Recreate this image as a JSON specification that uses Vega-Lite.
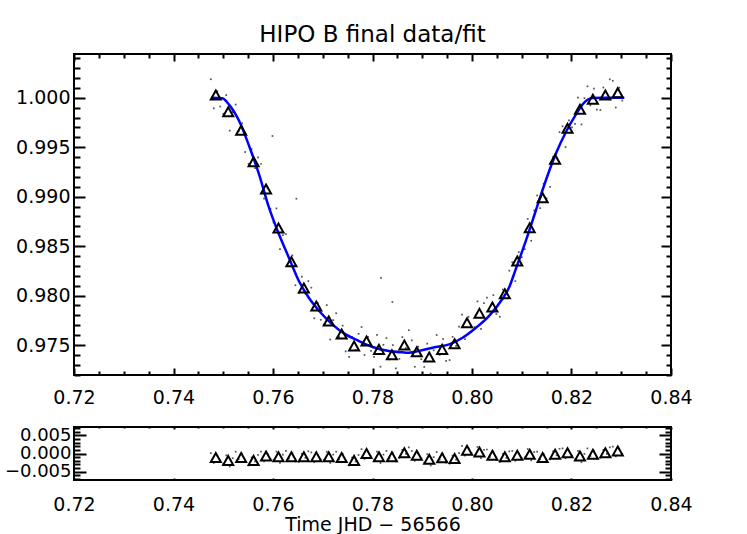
{
  "$schema": "https://vega.github.io/schema/vega-lite/v6.json",
  "padding": {"left": 3, "top": 23, "right": 5, "bottom": 0},
  "background": "white",
  "config": {
    "font": "DejaVu Sans",
    "view": {"stroke": "black", "strokeWidth": 2},
    "axis": {"domain": false, "grid": false, "tickColor": "black", "tickWidth": 2, "labelColor": "black", "labelFont": "DejaVu Sans", "labelFontSize": 19, "labelFontWeight": "normal", "labelOverlap": false, "labelFlush": false, "labelBound": false, "titleColor": "black", "titleFont": "DejaVu Sans", "titleFontSize": 19, "titleFontWeight": "normal"}
  },
  "datasets": {
    "bins": [
      {"x":0.7485,"f":1.00027,"r":-0.0011},{"x":0.7510,"f":0.99858,"r":-0.0019},{"x":0.7536,"f":0.99671,"r":-0.0011},{"x":0.7561,"f":0.99353,"r":-0.0019},
      {"x":0.7586,"f":0.99077,"r":-0.0007},{"x":0.7611,"f":0.98683,"r":-0.0009},{"x":0.7637,"f":0.98342,"r":-0.0009},{"x":0.7662,"f":0.98076,"r":-0.0009},
      {"x":0.7687,"f":0.97894,"r":-0.0009},{"x":0.7712,"f":0.97742,"r":-0.0009},{"x":0.7738,"f":0.97611,"r":-0.0011},{"x":0.7763,"f":0.97490,"r":-0.0019},
      {"x":0.7788,"f":0.97540,"r":0.0000},{"x":0.7813,"f":0.97456,"r":-0.0009},{"x":0.7839,"f":0.97402,"r":-0.0009},{"x":0.7864,"f":0.97500,"r":0.0002},
      {"x":0.7889,"f":0.97432,"r":-0.0005},{"x":0.7914,"f":0.97378,"r":-0.0016},{"x":0.7940,"f":0.97456,"r":-0.0012},{"x":0.7965,"f":0.97513,"r":-0.0014},
      {"x":0.7990,"f":0.97725,"r":0.0009},{"x":0.8015,"f":0.97820,"r":0.0004},{"x":0.8041,"f":0.97884,"r":-0.0005},{"x":0.8066,"f":0.98018,"r":-0.0009},
      {"x":0.8091,"f":0.98349,"r":-0.0005},{"x":0.8116,"f":0.98686,"r":-0.0002},{"x":0.8142,"f":0.98989,"r":-0.0011},{"x":0.8167,"f":0.99377,"r":-0.0002},
      {"x":0.8192,"f":0.99691,"r":0.0002},{"x":0.8217,"f":0.99883,"r":-0.0007},{"x":0.8243,"f":0.99984,"r":-0.0002},{"x":0.8268,"f":1.00027,"r":0.0002},
      {"x":0.8293,"f":1.00051,"r":0.0007}
    ],
    "fit": [
      {"x":0.7476,"f":1.0000},{"x":0.7498,"f":0.99994},{"x":0.7512,"f":0.99928},{"x":0.7532,"f":0.99764},{"x":0.7552,"f":0.99512},
      {"x":0.7572,"f":0.99226},{"x":0.7592,"f":0.98888},{"x":0.7612,"f":0.98619},{"x":0.7632,"f":0.98382},{"x":0.7652,"f":0.98147},
      {"x":0.7672,"f":0.97978},{"x":0.7693,"f":0.97844},{"x":0.7719,"f":0.97709},{"x":0.7746,"f":0.97608},{"x":0.7773,"f":0.97540},
      {"x":0.7800,"f":0.97480},{"x":0.7833,"f":0.97439},{"x":0.7860,"f":0.97426},{"x":0.7873,"f":0.97422},{"x":0.7894,"f":0.97441},
      {"x":0.7927,"f":0.97480},{"x":0.7954,"f":0.97507},{"x":0.7981,"f":0.97574},{"x":0.8008,"f":0.97675},{"x":0.8034,"f":0.97793},
      {"x":0.8061,"f":0.97965},{"x":0.8074,"f":0.98076},{"x":0.8088,"f":0.98268},{"x":0.8108,"f":0.98551},{"x":0.8128,"f":0.98855},
      {"x":0.8148,"f":0.99158},{"x":0.8168,"f":0.99428},{"x":0.8188,"f":0.99646},{"x":0.8209,"f":0.99832},{"x":0.8225,"f":0.99949},
      {"x":0.8242,"f":0.99997},{"x":0.8262,"f":1.0000},{"x":0.8306,"f":1.0000}
    ],
    "raw": [
      {"x":0.7475,"f":1.00187,"r":0.0001},{"x":0.7481,"f":0.99893,"r":-0.0026},{"x":0.7488,"f":1.00065,"r":-0.0006},{"x":0.7494,"f":0.99911,"r":-0.0019},
      {"x":0.7500,"f":0.99838,"r":-0.0028},{"x":0.7506,"f":1.00026,"r":-0.0005},{"x":0.7513,"f":0.99667,"r":-0.0036},{"x":0.7519,"f":0.99855,"r":-0.0013},
      {"x":0.7525,"f":0.99931,"r":0.0005},{"x":0.7531,"f":0.99661,"r":-0.0016},{"x":0.7538,"f":0.99741,"r":-0.0001},{"x":0.7544,"f":0.99451,"r":-0.0024},
      {"x":0.7551,"f":0.99331,"r":-0.0033},{"x":0.7557,"f":0.99480,"r":-0.0011},{"x":0.7564,"f":0.99288,"r":-0.0022},{"x":0.7570,"f":0.99397,"r":-0.0004},
      {"x":0.7576,"f":0.99330,"r":0.0005},{"x":0.7582,"f":0.98980,"r":-0.0022},{"x":0.7589,"f":0.99087,"r":-0.0002},{"x":0.7595,"f":0.98878,"r":-0.0015},
      {"x":0.7601,"f":0.98739,"r":-0.0018},{"x":0.7607,"f":0.98881,"r":0.0005},{"x":0.7614,"f":0.98469,"r":-0.0026},{"x":0.7620,"f":0.98612,"r":-0.0003},
      {"x":0.7626,"f":0.98622,"r":0.0007},{"x":0.7632,"f":0.98340,"r":-0.0014},{"x":0.7639,"f":0.98406,"r":0.0001},{"x":0.7645,"f":0.98104,"r":-0.0022},
      {"x":0.7652,"f":0.98025,"r":-0.0023},{"x":0.7658,"f":0.98191,"r":-0.0001},{"x":0.7665,"f":0.98019,"r":-0.0012},{"x":0.7671,"f":0.98146,"r":0.0006},
      {"x":0.7677,"f":0.98080,"r":0.0003},{"x":0.7683,"f":0.97770,"r":-0.0024},{"x":0.7690,"f":0.97924,"r":-0.0004},{"x":0.7696,"f":0.97755,"r":-0.0017},
      {"x":0.7702,"f":0.97708,"r":-0.0018},{"x":0.7708,"f":0.97904,"r":0.0005},{"x":0.7715,"f":0.97555,"r":-0.0026},{"x":0.7721,"f":0.97752,"r":-0.0003},
      {"x":0.7727,"f":0.97821,"r":0.0005},{"x":0.7733,"f":0.97581,"r":-0.0016},{"x":0.7740,"f":0.97696,"r":-0.0001},{"x":0.7746,"f":0.97436,"r":-0.0024},
      {"x":0.7753,"f":0.97380,"r":-0.0033},{"x":0.7759,"f":0.97582,"r":-0.0011},{"x":0.7766,"f":0.97451,"r":-0.0022},{"x":0.7772,"f":0.97613,"r":-0.0004},
      {"x":0.7778,"f":0.97682,"r":0.0012},{"x":0.7784,"f":0.97399,"r":-0.0015},{"x":0.7791,"f":0.97583,"r":0.0005},{"x":0.7797,"f":0.97440,"r":-0.0008},
      {"x":0.7803,"f":0.97381,"r":-0.0018},{"x":0.7809,"f":0.97602,"r":0.0005},{"x":0.7816,"f":0.97281,"r":-0.0026},{"x":0.7822,"f":0.97502,"r":-0.0003},
      {"x":0.7828,"f":0.97570,"r":0.0007},{"x":0.7834,"f":0.97355,"r":-0.0014},{"x":0.7841,"f":0.97500,"r":0.0001},{"x":0.7847,"f":0.97265,"r":-0.0022},
      {"x":0.7854,"f":0.97360,"r":-0.0012},{"x":0.7860,"f":0.97580,"r":0.0010},{"x":0.7867,"f":0.97470,"r":-0.0001},{"x":0.7873,"f":0.97650,"r":0.0017},
      {"x":0.7879,"f":0.97547,"r":0.0007},{"x":0.7885,"f":0.97280,"r":-0.0020},{"x":0.7892,"f":0.97484,"r":0.0000},{"x":0.7898,"f":0.97357,"r":-0.0013},
      {"x":0.7904,"f":0.97278,"r":-0.0025},{"x":0.7910,"f":0.97514,"r":-0.0002},{"x":0.7917,"f":0.97211,"r":-0.0033},{"x":0.7923,"f":0.97447,"r":-0.0010},
      {"x":0.7929,"f":0.97601,"r":0.0004},{"x":0.7935,"f":0.97400,"r":-0.0017},{"x":0.7942,"f":0.97561,"r":-0.0002},{"x":0.7948,"f":0.97340,"r":-0.0025},
      {"x":0.7955,"f":0.97348,"r":-0.0028},{"x":0.7961,"f":0.97583,"r":-0.0006},{"x":0.7968,"f":0.97491,"r":-0.0017},{"x":0.7974,"f":0.97686,"r":0.0001},
      {"x":0.7980,"f":0.97807,"r":0.0021},{"x":0.7986,"f":0.97560,"r":-0.0006},{"x":0.7993,"f":0.97786,"r":0.0014},{"x":0.7999,"f":0.97679,"r":0.0001},
      {"x":0.8005,"f":0.97682,"r":-0.0005},{"x":0.8011,"f":0.97941,"r":0.0018},{"x":0.8018,"f":0.97664,"r":-0.0013},{"x":0.8024,"f":0.97923,"r":0.0010},
      {"x":0.8030,"f":0.97979,"r":0.0011},{"x":0.8036,"f":0.97808,"r":-0.0010},{"x":0.8043,"f":0.98004,"r":0.0005},{"x":0.8049,"f":0.97813,"r":-0.0018},
      {"x":0.8056,"f":0.97786,"r":-0.0023},{"x":0.8062,"f":0.98061,"r":-0.0001},{"x":0.8069,"f":0.98016,"r":-0.0012},{"x":0.8075,"f":0.98251,"r":0.0006},
      {"x":0.8081,"f":0.98337,"r":0.0007},{"x":0.8087,"f":0.98146,"r":-0.0020},{"x":0.8094,"f":0.98439,"r":0.0000},{"x":0.8100,"f":0.98388,"r":-0.0013},
      {"x":0.8106,"f":0.98469,"r":-0.0011},{"x":0.8112,"f":0.98775,"r":0.0012},{"x":0.8119,"f":0.98554,"r":-0.0019},{"x":0.8125,"f":0.98860,"r":0.0004},
      {"x":0.8131,"f":0.99012,"r":0.0005},{"x":0.8137,"f":0.98884,"r":-0.0016},{"x":0.8144,"f":0.99130,"r":-0.0001},{"x":0.8150,"f":0.98982,"r":-0.0024},
      {"x":0.8157,"f":0.99098,"r":-0.0016},{"x":0.8163,"f":0.99401,"r":0.0006},{"x":0.8170,"f":0.99389,"r":-0.0005},{"x":0.8176,"f":0.99652,"r":0.0013},
      {"x":0.8182,"f":0.99711,"r":0.0014},{"x":0.8188,"f":0.99501,"r":-0.0013},{"x":0.8195,"f":0.99771,"r":0.0007},{"x":0.8201,"f":0.99701,"r":-0.0006},
      {"x":0.8207,"f":0.99735,"r":-0.0016},{"x":0.8213,"f":1.00000,"r":0.0007},{"x":0.8220,"f":0.99730,"r":-0.0024},{"x":0.8226,"f":0.99995,"r":-0.0001},
      {"x":0.8232,"f":1.00115,"r":0.0014},{"x":0.8238,"f":0.99923,"r":-0.0007},{"x":0.8245,"f":1.00093,"r":0.0008},{"x":0.8251,"f":0.99880,"r":-0.0015},
      {"x":0.8258,"f":0.99877,"r":-0.0012},{"x":0.8264,"f":1.00103,"r":0.0010},{"x":0.8271,"f":1.00000,"r":-0.0001},{"x":0.8277,"f":1.00186,"r":0.0017},
      {"x":0.8283,"f":1.00171,"r":0.0019},{"x":0.8289,"f":0.99901,"r":-0.0008},{"x":0.8296,"f":1.00101,"r":0.0012},{"x":0.8302,"f":0.99971,"r":-0.0001},
      {"x":0.7599,"f":0.99613,"r":null},{"x":0.7647,"f":0.98979,"r":null},{"x":0.7817,"f":0.98180,"r":null},{"x":0.7840,"f":0.97935,"r":null}
    ]
  },
  "spacing": 7,
  "vconcat": [
    {
      "title": {"text": "HIPO B final data/fit", "frame": "group", "anchor": "middle", "fontSize": 23, "fontWeight": "normal", "font": "DejaVu Sans", "color": "black", "offset": 2},
      "width": 597,
      "height": 321,
      "resolve": {"axis": {"x": "independent", "y": "independent"}},
      "layer": [
        {
          "data": {"name": "raw"},
          "mark": {"type": "point", "shape": "square", "filled": true, "size": 3, "color": "#444", "opacity": 0.9},
          "encoding": {
            "x": {"field": "x", "type": "quantitative", "scale": {"domain": [0.72, 0.84], "nice": false, "zero": false},
              "axis": {"orient": "bottom", "title": null, "values": [0.72,0.725,0.73,0.735,0.74,0.745,0.75,0.755,0.76,0.765,0.77,0.775,0.78,0.785,0.79,0.795,0.8,0.805,0.81,0.815,0.82,0.825,0.83,0.835,0.84],
                "labelExpr": "abs(datum.value*50-round(datum.value*50))<0.001 ? format(datum.value,'.2f') : ''",
                "tickSize": {"condition": {"test": "abs(datum.value*50-round(datum.value*50))<0.001", "value": -7}, "value": -4},
                "labelPadding": 20}},
            "y": {"field": "f", "type": "quantitative", "scale": {"domain": [0.97197, 1.00442], "nice": false, "zero": false},
              "axis": {"orient": "left", "title": null, "values": [0.972,0.973,0.974,0.975,0.976,0.977,0.978,0.979,0.98,0.981,0.982,0.983,0.984,0.985,0.986,0.987,0.988,0.989,0.99,0.991,0.992,0.993,0.994,0.995,0.996,0.997,0.998,0.999,1.0,1.001,1.002,1.003,1.004],
                "labelExpr": "abs(datum.value*200-round(datum.value*200))<0.001 ? format(datum.value,'.3f') : ''",
                "tickSize": {"condition": {"test": "abs(datum.value*200-round(datum.value*200))<0.001", "value": -11}, "value": -6},
                "labelPadding": 15}}
          }
        },
        {
          "data": {"name": "fit"},
          "mark": {"type": "line", "color": "#0000ff", "strokeWidth": 2.5, "interpolate": "monotone"},
          "encoding": {
            "x": {"field": "x", "type": "quantitative",
              "axis": {"orient": "top", "title": null, "labels": false, "values": [0.72,0.725,0.73,0.735,0.74,0.745,0.75,0.755,0.76,0.765,0.77,0.775,0.78,0.785,0.79,0.795,0.8,0.805,0.81,0.815,0.82,0.825,0.83,0.835,0.84],
                "tickSize": {"condition": {"test": "abs(datum.value*50-round(datum.value*50))<0.001", "value": -7}, "value": -4}}},
            "y": {"field": "f", "type": "quantitative",
              "axis": {"orient": "right", "title": null, "labels": false, "values": [0.972,0.973,0.974,0.975,0.976,0.977,0.978,0.979,0.98,0.981,0.982,0.983,0.984,0.985,0.986,0.987,0.988,0.989,0.99,0.991,0.992,0.993,0.994,0.995,0.996,0.997,0.998,0.999,1.0,1.001,1.002,1.003,1.004],
                "tickSize": {"condition": {"test": "abs(datum.value*200-round(datum.value*200))<0.001", "value": -10}, "value": -5}}}
          }
        },
        {
          "data": {"name": "bins"},
          "mark": {"type": "point", "shape": "M0,-0.9L1,0.9L-1,0.9Z", "filled": false, "size": 100, "stroke": "black", "strokeWidth": 2, "opacity": 1},
          "encoding": {
            "x": {"field": "x", "type": "quantitative", "axis": null},
            "y": {"field": "f", "type": "quantitative", "axis": null}
          }
        }
      ]
    },
    {
      "width": 597,
      "height": 53,
      "resolve": {"axis": {"x": "independent", "y": "independent"}},
      "layer": [
        {
          "data": {"name": "raw"},
          "mark": {"type": "point", "shape": "square", "filled": true, "size": 3, "color": "#444", "opacity": 0.9},
          "encoding": {
            "x": {"field": "x", "type": "quantitative", "scale": {"domain": [0.72, 0.84], "nice": false, "zero": false},
              "axis": {"orient": "bottom", "title": "Time JHD \u2212 56566", "titlePadding": 0, "values": [0.72,0.725,0.73,0.735,0.74,0.745,0.75,0.755,0.76,0.765,0.77,0.775,0.78,0.785,0.79,0.795,0.8,0.805,0.81,0.815,0.82,0.825,0.83,0.835,0.84],
                "labelExpr": "abs(datum.value*50-round(datum.value*50))<0.001 ? format(datum.value,'.2f') : ''",
                "tickSize": {"condition": {"test": "abs(datum.value*50-round(datum.value*50))<0.001", "value": -2}, "value": -1},
                "labelPadding": 17}},
            "y": {"field": "r", "type": "quantitative", "scale": {"domain": [-0.0073, 0.0073], "nice": false, "zero": false},
              "axis": {"orient": "left", "title": null, "labelFontSize": 18, "values": [-0.007,-0.006,-0.005,-0.004,-0.003,-0.002,-0.001,0,0.001,0.002,0.003,0.004,0.005,0.006,0.007],
                "labelExpr": "abs(datum.value*200-round(datum.value*200))<0.001 ? format(datum.value,'.3f') : ''",
                "tickSize": {"condition": {"test": "abs(datum.value*200-round(datum.value*200))<0.001", "value": -12}, "value": -6},
                "labelPadding": 15}}
          }
        },
        {
          "data": {"name": "bins"},
          "mark": {"type": "point", "shape": "M0,-0.9L1,0.9L-1,0.9Z", "filled": false, "size": 100, "stroke": "black", "strokeWidth": 2, "opacity": 1},
          "encoding": {
            "x": {"field": "x", "type": "quantitative",
              "axis": {"orient": "top", "title": null, "labels": false, "values": [0.72,0.725,0.73,0.735,0.74,0.745,0.75,0.755,0.76,0.765,0.77,0.775,0.78,0.785,0.79,0.795,0.8,0.805,0.81,0.815,0.82,0.825,0.83,0.835,0.84],
                "tickSize": {"condition": {"test": "abs(datum.value*50-round(datum.value*50))<0.001", "value": -2}, "value": -1}}},
            "y": {"field": "r", "type": "quantitative",
              "axis": {"orient": "right", "title": null, "labels": false, "values": [-0.007,-0.006,-0.005,-0.004,-0.003,-0.002,-0.001,0,0.001,0.002,0.003,0.004,0.005,0.006,0.007],
                "tickSize": {"condition": {"test": "abs(datum.value*200-round(datum.value*200))<0.001", "value": -12}, "value": -6}}}
          }
        }
      ]
    }
  ]
}
